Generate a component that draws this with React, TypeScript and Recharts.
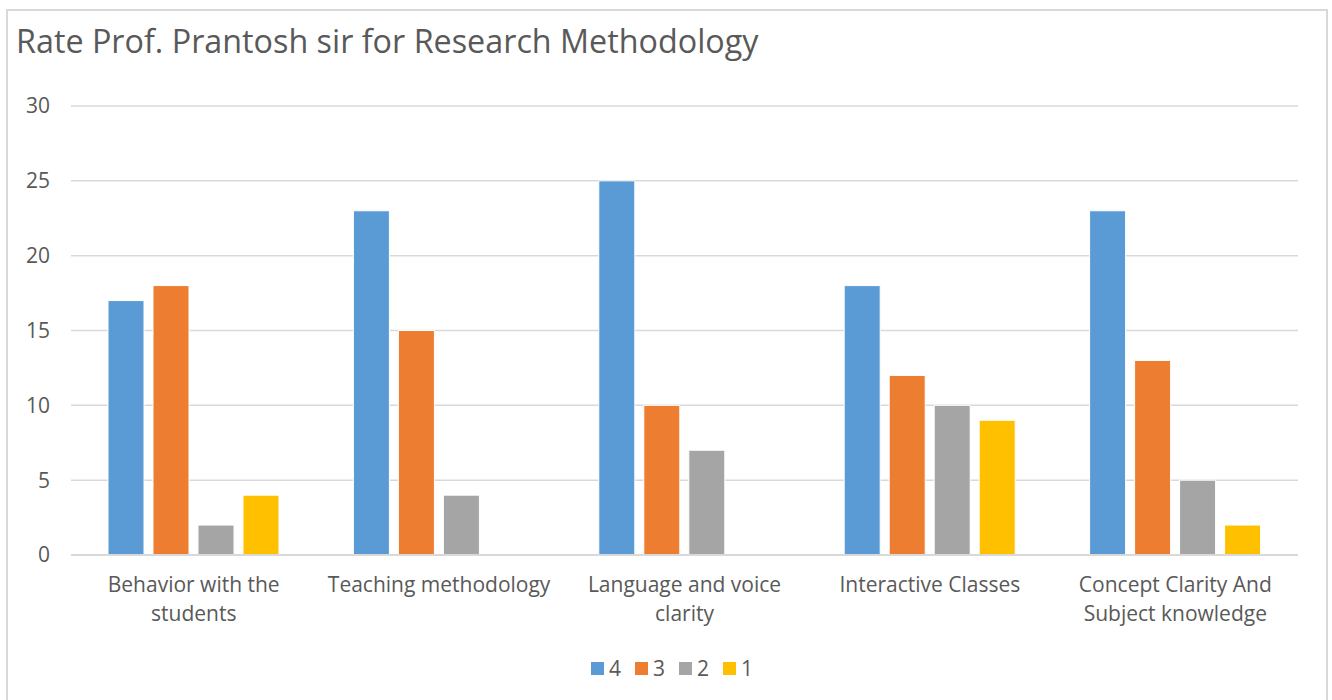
import React from 'react';
import { BarChart, Bar, XAxis, YAxis, CartesianGrid, Legend } from 'recharts';

const categories = [
  'Behavior with the\nstudents',
  'Teaching methodology',
  'Language and voice\nclarity',
  'Interactive Classes',
  'Concept Clarity And\nSubject knowledge',
];
const rating4 = [17, 23, 25, 18, 23];
const rating3 = [18, 15, 10, 12, 13];
const rating2 = [2, 4, 7, 10, 5];
const rating1 = [4, 0, 0, 9, 2];
const yTicks = [0, 5, 10, 15, 20, 25, 30];
const seriesNames = ['4', '3', '2', '1'];
const seriesColors = ['#5B9BD5', '#ED7D31', '#A5A5A5', '#FFC000'];

const data = categories.map((c, i) => ({
  name: c,
  s4: rating4[i],
  s3: rating3[i],
  s2: rating2[i],
  s1: rating1[i],
}));

const FONT = '"Open Sans", "Noto Sans", sans-serif';
const TEXT = '#595959';

const XTick = (props: any) => {
  const { x, y, payload } = props;
  const lines = String(payload.value).split('\n');
  return (
    <g transform={`translate(${x},${y})`}>
      {lines.map((l, i) => (
        <text key={i} x={0} y={i * 29} dy={29} textAnchor="middle" fill={TEXT} fontSize={21} fontFamily={FONT}>
          {l}
        </text>
      ))}
    </g>
  );
};

const LegendContent = () => (
  <div style={{ display: 'flex', justifyContent: 'center', alignItems: 'center', fontFamily: FONT, fontSize: 21, color: TEXT, paddingLeft: 12 }}>
    {seriesNames.map((n, i) => (
      <div key={n} style={{ display: 'flex', alignItems: 'center', marginRight: i < seriesNames.length - 1 ? 14 : 0 }}>
        <span style={{ display: 'inline-block', width: 13, height: 13, background: seriesColors[i], marginRight: 5 }} />
        <span>{n}</span>
      </div>
    ))}
  </div>
);

export default function App() {
  const keys = ['s4', 's3', 's2', 's1'];
  return (
    <div style={{ position: 'absolute', left: 0, top: 0, width: 1332, height: 700, background: '#fff', overflow: 'hidden' }}>
      <div style={{ position: 'absolute', left: 6, top: 9, width: 1322, height: 720, border: '2px solid #d9d9d9', boxSizing: 'border-box' }} />
      <div style={{ position: 'absolute', left: 16, top: 18, fontFamily: FONT, fontSize: 32.3, color: TEXT, whiteSpace: 'nowrap', lineHeight: '44px' }}>
        Rate Prof. Prantosh sir for Research Methodology
      </div>
      <div style={{ position: 'absolute', left: 0, top: 0 }}>
        <BarChart width={1332} height={700} data={data} margin={{ top: 106, right: 34, bottom: 30, left: 0 }} barSize={36} barGap={9}>
          <CartesianGrid vertical={false} stroke="#d9d9d9" strokeWidth={1.5} />
          <XAxis dataKey="name" tick={<XTick />} tickLine={false} axisLine={{ stroke: '#d9d9d9', strokeWidth: 2 }} interval={0} height={87} />
          <YAxis domain={[0, 30]} ticks={yTicks} width={71} tickLine={false} axisLine={false} tickMargin={15}
            tick={{ fill: TEXT, fontSize: 21, fontFamily: FONT }} />
          <Legend verticalAlign="bottom" content={<LegendContent />} wrapperStyle={{ left: 0, width: 1332, top: 654 }} />
          {keys.map((k, i) => (
            <Bar key={k} dataKey={k} name={seriesNames[i]} fill={seriesColors[i]} stroke="#fff" strokeWidth={1} isAnimationActive={false} />
          ))}
        </BarChart>
      </div>
    </div>
  );
}
